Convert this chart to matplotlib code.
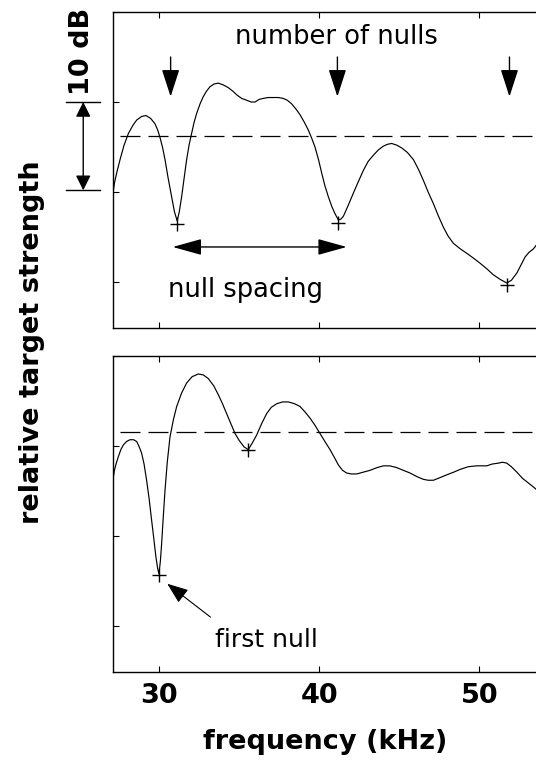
import numpy as np
import matplotlib
matplotlib.use("Agg")
import matplotlib.pyplot as plt

plt.rcParams["font.family"] = "DejaVu Sans"

# top panel: target strength vs frequency (kHz, dB)
top_freq = [27.12, 27.2, 27.35, 27.55, 27.8, 28.07, 28.35, 28.59, 28.9, 29.17, 29.45, 29.73, 29.9, 30.04,
            30.2, 30.36, 30.55, 30.77, 30.95, 31.12, 31.25, 31.4, 31.55, 31.71, 31.86, 32.02, 32.17, 32.33,
            32.55, 32.75, 32.95, 33.17, 33.42, 33.69, 34.0, 34.31, 34.6, 34.84, 35.15, 35.46, 35.75, 35.98,
            36.25, 36.5, 36.8, 37.13, 37.45, 37.75, 38.0, 38.27, 38.55, 38.79, 39.05, 39.31, 39.52, 39.73,
            39.95, 40.15, 40.35, 40.56, 40.78, 40.98, 41.19, 41.35, 41.5, 41.8, 42.13, 42.45, 42.75, 43.05,
            43.38, 43.7, 44.0, 44.25, 44.52, 44.85, 45.15, 45.5, 45.88, 46.2, 46.5, 46.8, 47.13, 47.45,
            47.75, 48.05, 48.38, 48.8, 49.21, 49.6, 50.04, 50.45, 50.88, 51.3, 51.71, 52.0, 52.34, 52.6,
            52.86, 53.1, 53.38, 53.6]
top_db = [-10.0, -9.0, -7.8, -6.4, -4.8, -3.5, -2.6, -2.0, -1.6, -1.5, -1.8, -2.4, -3.1, -3.9,
          -5.0, -6.4, -8.4, -10.5, -12.2, -13.2, -12.2, -10.5, -8.5, -6.4, -4.8, -3.5, -2.3, -1.3,
          -0.2, 0.6, 1.2, 1.7, 2.0, 2.1, 1.9, 1.6, 1.2, 0.8, 0.4, 0.2, 0.0, 0.0,
          0.3, 0.4, 0.5, 0.5, 0.5, 0.4, 0.2, -0.2, -0.8, -1.4, -2.2, -3.1, -4.0, -5.0,
          -6.4, -7.9, -9.3, -10.5, -11.6, -12.4, -13.1, -13.0, -12.7, -11.5, -10.1, -8.8, -7.6, -6.6,
          -5.9, -5.3, -4.9, -4.7, -4.6, -4.8, -5.1, -5.6, -6.4, -7.5, -8.7, -10.0, -11.3, -12.7,
          -13.9, -14.9, -15.7, -16.3, -16.8, -17.3, -17.9, -18.5, -19.2, -19.7, -20.1, -19.8, -19.0, -18.1,
          -17.2, -16.7, -16.3, -15.8]
top_null_freq = [31.12, 41.19, 51.71]
top_null_db = [-13.6, -13.4, -20.3]
top_mean_db = -3.8

# bottom panel
bot_freq = [27.12, 27.2, 27.3, 27.44, 27.6, 27.75, 27.95, 28.17, 28.4, 28.59, 28.75, 28.9, 29.05, 29.21,
            29.37, 29.52, 29.66, 29.79, 29.9, 29.98, 30.07, 30.15, 30.25, 30.36, 30.5, 30.67, 30.88, 31.09,
            31.4, 31.71, 32.05, 32.44, 32.75, 33.06, 33.4, 33.69, 33.95, 34.21, 34.47, 34.73, 35.0, 35.3,
            35.56, 35.8, 36.08, 36.4, 36.71, 37.0, 37.34, 37.7, 38.06, 38.45, 38.79, 39.1, 39.42, 39.73,
            40.04, 40.35, 40.67, 40.95, 41.19, 41.45, 41.71, 42.0, 42.34, 42.75, 43.17, 43.6, 44.0, 44.4,
            44.84, 45.25, 45.67, 46.1, 46.5, 46.8, 47.13, 47.55, 47.96, 48.4, 48.79, 49.3, 49.83, 50.15,
            50.46, 50.8, 51.19, 51.45, 51.71, 52.0, 52.34, 52.7, 53.06, 53.48, 53.6]
bot_db = [-3.6, -2.7, -2.0, -1.2, -0.4, 0.1, 0.5, 0.7, 0.7, 0.5, -0.1, -0.8, -2.0, -3.8,
          -5.9, -8.2, -10.3, -12.3, -13.6, -14.2, -12.8, -10.8, -7.9, -4.9, -1.8, 1.0, 2.9, 4.4,
          5.9, 7.0, 7.7, 8.0, 7.9, 7.5, 6.7, 5.7, 4.7, 3.6, 2.5, 1.4, 0.6, -0.1,
          -0.4, 0.3, 1.2, 2.5, 3.6, 4.3, 4.7, 4.9, 4.9, 4.7, 4.4, 3.8, 3.1, 2.3,
          1.4, 0.5, -0.4, -1.3, -2.1, -2.7, -3.0, -3.1, -3.1, -2.9, -2.7, -2.4, -2.2, -2.2,
          -2.4, -2.7, -3.0, -3.4, -3.7, -3.8, -3.8, -3.5, -3.2, -2.9, -2.6, -2.3, -2.2, -2.2,
          -2.2, -2.0, -1.9, -1.8, -1.9, -2.3, -2.9, -3.6, -4.1, -4.7, -4.9]
bot_null_freq = [29.98, 35.56]
bot_null_db = [-14.3, -0.4]
bot_mean_db = 1.6

nulls_arrow_freq = [30.71, 41.13, 51.88]
xticks = [30, 40, 50]
yticks = [10, 0, -10, -20]

fig = plt.figure(figsize=(5.36, 7.63), dpi=100)
ax1 = fig.add_axes([113 / 536, 1 - 328 / 763, 424 / 536, 316 / 763])
ax2 = fig.add_axes([113 / 536, 1 - 672 / 763, 424 / 536, 316 / 763])

for ax in (ax1, ax2):
    ax.set_xlim(27.11, 53.6)
    ax.set_ylim(-25.1, 10)
    ax.set_xticks(xticks)
    ax.set_yticks(yticks)
    ax.set_yticklabels([])
    ax.tick_params(direction="in", length=4.5, width=0.8, top=True, right=False)
    for s in ax.spines.values():
        s.set_linewidth(1.0)
    ax.spines["right"].set_visible(False)

ax1.set_xticklabels([])
ax2.set_xticklabels([str(t) for t in xticks], fontsize=19.5, fontweight="bold")
ax2.tick_params(axis="x", pad=8)
ax2.set_xlabel("frequency (kHz)", fontsize=19.5, fontweight="bold", labelpad=14)

fig.text(32 / 536, 1 - 342 / 763, "relative target strength", rotation=90,
         ha="center", va="center", fontsize=19.5, fontweight="bold")

# curves
ax1.plot(top_freq, top_db, color="k", lw=0.85)
ax1.plot([27.55, 53.6], [top_mean_db, top_mean_db], color="k", lw=0.9, dashes=(16, 6.4))
ax1.plot(top_null_freq, top_null_db, "k+", ms=10, mew=1.0)

ax2.plot(bot_freq, bot_db, color="k", lw=0.85)
ax2.plot([27.55, 53.6], [bot_mean_db, bot_mean_db], color="k", lw=0.9, dashes=(16, 6.4))
ax2.plot(bot_null_freq, bot_null_db, "k+", ms=10, mew=1.0)

# annotations, top
ax1.text(41.1, 7.2, "number of nulls", ha="center", va="center", fontsize=18.5)
for f in nulls_arrow_freq:
    ax1.annotate("", xy=(f, 0.6), xytext=(f, 5.0),
                 arrowprops=dict(arrowstyle="-|>,head_length=1.7,head_width=0.55",
                                 lw=1.0, color="k", shrinkA=0, shrinkB=0))
ax1.annotate("", xy=(30.84, -16.1), xytext=(41.71, -16.1),
             arrowprops=dict(arrowstyle="<|-|>,head_length=1.8,head_width=0.5",
                             lw=1.0, color="k", shrinkA=0, shrinkB=0))
ax1.text(35.4, -20.9, "null spacing", ha="center", va="center", fontsize=18.5)

# 10 dB scale bar outside the axes
ax1.annotate("", xy=(25.25, 0.0), xytext=(25.25, -9.8), annotation_clip=False,
             arrowprops=dict(arrowstyle="<|-|>,head_length=0.9,head_width=0.45",
                             lw=1.0, color="k", shrinkA=0, shrinkB=0))
ax1.plot([24.2, 26.3], [0.0, 0.0], color="k", lw=1.0, clip_on=False)
ax1.plot([24.2, 26.3], [-9.8, -9.8], color="k", lw=1.0, clip_on=False)
ax1.text(25.2, 5.6, "10 dB", rotation=90, ha="center", va="center",
         fontsize=19.5, fontweight="bold", clip_on=False)

# annotations, bottom
ax2.annotate("", xy=(30.5, -15.3), xytext=(33.2, -19.0),
             arrowprops=dict(arrowstyle="-|>,head_length=1.3,head_width=0.5",
                             lw=0.8, color="k", shrinkA=0, shrinkB=0))
ax2.text(36.7, -21.6, "first null", ha="center", va="center", fontsize=18)

fig.savefig("out.png", dpi=100)
